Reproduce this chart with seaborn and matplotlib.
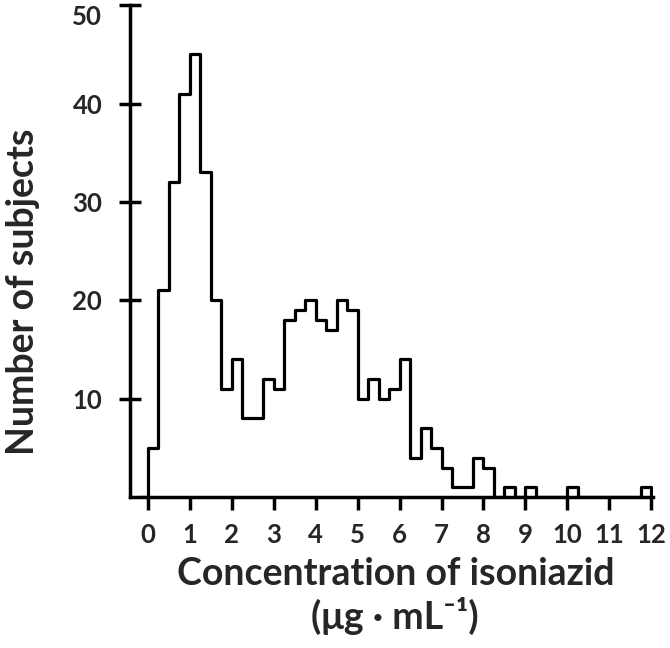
import numpy as np
import pandas as pd
import seaborn as sns
import matplotlib
matplotlib.use("Agg")
import matplotlib.pyplot as plt

# histogram of isoniazid concentrations, bins of 0.25 from 0 to 12
bin_width = 0.25
counts = [5, 21, 32, 41, 45, 33, 20, 11,      # 0 - 2
          14, 8, 8, 12, 11, 18, 19, 20,       # 2 - 4
          18, 17, 20, 19, 10, 12, 10, 11,     # 4 - 6
          14, 4, 7, 5, 3, 1, 1, 4,            # 6 - 8
          3, 0, 1, 0, 1, 0, 0, 0,             # 8 - 10
          1, 0, 0, 0, 0, 0, 0, 1]             # 10 - 12
x_ticks = list(range(0, 13))
y_ticks = [10, 20, 30, 40, 50]

# pad with empty bins so the outline closes on the baseline
padded = [0] + counts + [0]
centers = bin_width * (np.arange(len(padded)) - 0.5)
df = pd.DataFrame({'conc': centers, 'n': padded})

sns.set_style("ticks")
plt.rcParams['font.family'] = ['Lato', 'DejaVu Sans']
plt.rcParams['font.weight'] = 'bold'

fig = plt.figure(figsize=(6.7, 6.48), dpi=100)
ax = fig.add_axes([0.194, 0.233, 0.781, 0.759])

sns.histplot(data=df, x='conc', weights='n', binwidth=bin_width,
             binrange=(-bin_width, bin_width * (len(counts) + 1)),
             element='step', fill=False, color='black', linewidth=2.3, ax=ax)

ax.set_xlim(-0.43, 12.05)
ax.set_ylim(0, 50)
ax.set_xticks(x_ticks)
ax.set_yticks(y_ticks)
ax.tick_params(axis='x', direction='out', length=9, width=2.5, pad=10,
               labelsize=18.5, color='black')
ax.tick_params(axis='y', direction='inout', length=16, width=2.5, pad=12,
               labelsize=18.5, color='black')
for lab in ax.get_xticklabels() + ax.get_yticklabels():
    lab.set_fontweight('bold')
# top label sits below its tick, as in the original figure
ax.get_yticklabels()[-1].set_verticalalignment('top')

sns.despine(ax=ax)
for side in ['left', 'bottom']:
    ax.spines[side].set_linewidth(2.5)
    ax.spines[side].set_color('black')

ax.set_ylabel('Number of subjects', fontsize=27, fontweight='bold')
ax.yaxis.set_label_coords(-0.172, 0.417)
ax.set_xlabel('Concentration of isoniazid\n(μg · mL⁻¹)', fontsize=27,
              fontweight='bold', linespacing=1.2)
ax.xaxis.set_label_coords(0.507, -0.122)

fig.savefig('out.png', dpi=100)
